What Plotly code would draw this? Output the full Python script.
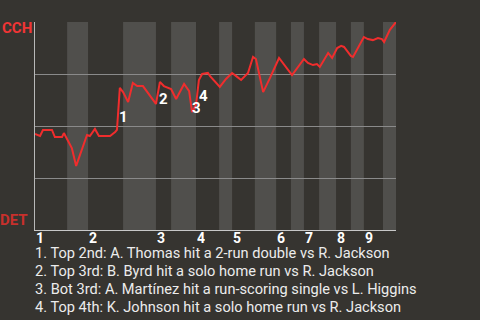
import plotly.graph_objects as go

# Game progress (0-100) and CCH win probability (%)
progress = [0, 1.4, 2.2, 4.7, 5.5, 7.5, 8.0, 8.9, 10.2, 11.4, 12.5, 14.4, 15.2, 16.6, 17.7,
            20.8, 22.2, 22.7, 23.5, 24.4, 25.8, 27.1, 28.3, 29.9, 33.5, 34.6, 35.7, 37.7,
            39.1, 41.3, 42.7, 43.5, 44.6, 45.4, 46.3, 47.9, 48.5, 51.2, 52.9, 54.6, 56.0,
            57.1, 59.0, 60.4, 61.2, 63.2, 65.1, 67.6, 71.2, 72.3, 73.4, 74.5, 75.6, 77.0,
            78.1, 78.9, 81.2, 82.3, 83.7, 84.8, 85.6, 86.7, 87.5, 88.1, 89.5, 91.1, 92.2,
            93.6, 95.0, 96.1, 96.7, 98.3, 100]
win_prob = [46.2, 45.2, 48.1, 48.1, 44.7, 44.7, 46.6, 43.8, 39.4, 30.8, 36.1, 45.7, 45.2,
            48.6, 45.2, 45.2, 47.1, 48.1, 68.3, 66.3, 61.5, 70.7, 69.2, 69.2, 60.6, 71.2,
            69.2, 67.8, 63.0, 70.2, 66.8, 56.7, 60.1, 72.1, 75.0, 75.5, 74.0, 68.8, 72.6,
            75.5, 73.6, 72.1, 75.5, 83.2, 82.2, 66.3, 73.1, 82.7, 74.5, 76.9, 79.3, 82.2,
            80.3, 79.3, 79.8, 78.4, 85.1, 82.7, 87.5, 88.5, 88.0, 85.6, 83.7, 83.2, 88.0,
            92.8, 91.8, 91.3, 92.3, 91.8, 90.4, 96.2, 100]

# Half-inning boundaries (game progress)
half_innings = [0, 8.9, 14.7, 24.4, 33.5, 37.7, 44.6, 51.0, 54.6, 60.9, 66.8, 70.9,
                74.5, 78.7, 83.4, 87.5, 91.1, 96.4, 100]
inning_labels = ["1", "2", "3", "4", "5", "6", "7", "8", "9"]

# Key events: marker label, position, description
event_ids = ["1", "2", "3", "4"]
event_x = [24.6, 35.7, 44.6, 46.8]
event_y = [54.8, 63.0, 59.1, 64.9]
event_text = [
    "Top 2nd: A. Thomas hit a 2-run double vs R. Jackson",
    "Top 3rd: B. Byrd hit a solo home run vs R. Jackson",
    "Bot 3rd: A. Martínez hit a run-scoring single vs L. Higgins",
    "Top 4th: K. Johnson hit a solo home run vs R. Jackson",
]

teams = ["CCH", "DET"]
team_colors = ["#f03535", "#c8302c"]

BG = "#363430"
BAND = "#504f4c"
FONT = "Roboto"

fig = go.Figure()
fig.add_trace(go.Scatter(x=progress, y=win_prob, mode="lines",
                         line=dict(color="#f02d2d", width=2), hoverinfo="skip",
                         cliponaxis=False))

shapes = []
for i in range(len(half_innings) - 1):
    if i % 2 == 1:
        shapes.append(dict(type="rect", xref="x", yref="paper", x0=half_innings[i],
                           x1=half_innings[i + 1], y0=0, y1=1, fillcolor=BAND,
                           line=dict(width=0), layer="below"))

annotations = []
for i, lab in enumerate(inning_labels):
    annotations.append(dict(x=half_innings[2 * i], y=0, xref="x", yref="paper",
                            text=lab, showarrow=False, xanchor="left", yanchor="top",
                            height=11, valign="middle",
                            font=dict(family=FONT, size=14, color="#ffffff", weight="bold"),
                            xshift=-1, yshift=0))
for eid, ex, ey in zip(event_ids, event_x, event_y):
    annotations.append(dict(x=ex, y=ey, xref="x", yref="y", text=eid, showarrow=False,
                            xanchor="center", yanchor="middle", height=11, valign="middle",
                            font=dict(family=FONT, size=15, color="#ffffff", weight="bold")))
for k, (eid, txt) in enumerate(zip(event_ids, event_text)):
    annotations.append(dict(x=0, y=-0.11 - 0.0865 * k, xref="paper", yref="paper",
                            text=f"{eid}. {txt}", showarrow=False, xanchor="left",
                            yanchor="middle", xshift=-2,
                            font=dict(family=FONT, size=14.6, color="#ececec")))
annotations.append(dict(x=0, y=0.972, xref="paper", yref="paper", text=teams[0],
                        showarrow=False, xanchor="right", yanchor="middle", xshift=-1,
                        font=dict(family=FONT, size=15, color=team_colors[0], weight="bold")))
annotations.append(dict(x=0, y=0.05, xref="paper", yref="paper", text=teams[1],
                        showarrow=False, xanchor="right", yanchor="middle", xshift=-5,
                        font=dict(family=FONT, size=15, color=team_colors[1], weight="bold")))

fig.update_layout(
    width=480, height=320,
    margin=dict(l=35, r=84, t=22, b=90),
    paper_bgcolor=BG, plot_bgcolor=BG,
    showlegend=False,
    shapes=shapes, annotations=annotations,
    xaxis=dict(range=[0, 100], showgrid=False, zeroline=False, showticklabels=False,
               showline=True, linecolor="#c8c8c8", linewidth=1, ticks=""),
    yaxis=dict(range=[0, 100], tickvals=[0, 25, 50, 75, 100], showgrid=True,
               gridcolor="#8a8a8a", gridwidth=1, zeroline=False, showticklabels=False,
               showline=True, linecolor="#b8b8b8", linewidth=1, ticks=""),
)

fig.write_html("out.html")
